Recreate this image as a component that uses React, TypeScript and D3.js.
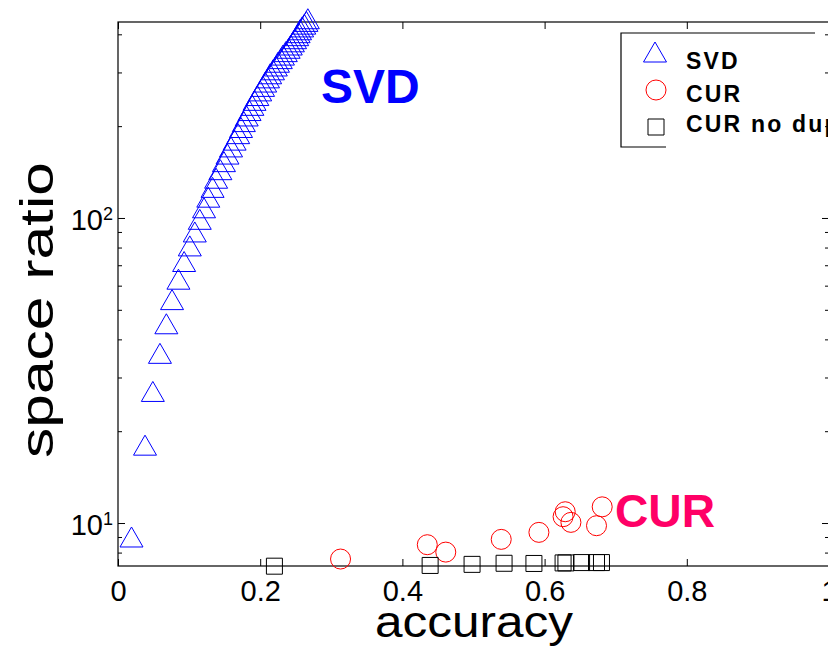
import { axisBottom, axisLeft, axisRight, axisTop, scaleLinear, scaleLog, select } from "d3";
import { useEffect, useRef } from "react";

// SVD: one point per rank, space ratio grows ~linearly
const svdAccuracy = [
    0.019, 0.038, 0.049, 0.059, 0.068, 0.076, 0.085, 0.093, 0.101, 0.108,
    0.115, 0.121, 0.127, 0.133, 0.138, 0.144, 0.149, 0.154, 0.159, 0.164,
    0.169, 0.173, 0.177, 0.181, 0.185, 0.189, 0.192, 0.196, 0.2, 0.204,
    0.207, 0.211, 0.214, 0.218, 0.222, 0.225, 0.229, 0.232, 0.236, 0.24,
    0.243, 0.246, 0.249, 0.252, 0.254, 0.256, 0.259, 0.262, 0.265, 0.267,
];
const svdSpaceRatio = [
    9, 18, 27, 36, 45, 54, 63, 72, 81, 90,
    99, 108, 117, 126, 135, 144, 153, 162, 171, 180,
    189, 198, 207, 216, 225, 234, 243, 252, 261, 270,
    279, 288, 297, 306, 315, 324, 333, 342, 351, 360,
    369, 378, 387, 396, 405, 414, 423, 432, 441, 450,
];

const curAccuracy = [0.313, 0.435, 0.461, 0.539, 0.592, 0.626, 0.629, 0.637, 0.673, 0.681];
const curSpaceRatio = [7.62, 8.49, 8.03, 8.84, 9.32, 10.49, 10.89, 10.05, 9.8, 11.3];

const curNoDupAccuracy = [0.22, 0.439, 0.498, 0.543, 0.585, 0.626, 0.63, 0.652, 0.673, 0.68];
const curNoDupSpaceRatio = [7.22, 7.26, 7.32, 7.38, 7.37, 7.4, 7.4, 7.42, 7.42, 7.42];

const xTicks = [0, 0.2, 0.4, 0.6, 0.8, 1];
const xTickLabels = ["0", "0.2", "0.4", "0.6", "0.8", "1"];
const yMajorTicks = [10, 100];
const yMajorLabels = ["1", "2"]; // exponents
const yMinorTicks = [8, 9, 20, 30, 40, 50, 60, 70, 80, 90, 200, 300, 400];
const legendLabels = ["SVD", "CUR", "CUR no dup"];

const FONT = "'Liberation Sans', Arial, Helvetica, sans-serif";
const BLUE = "#0000ff";
const RED = "#ff0000";
const PINK = "#ff0066";

const W = 828;
const H = 652;
const L = 118;
const R = 829;
const T = 22;
const B = 566;

// marker shapes
const triangle = "M0,-10L11.5,10L-11.5,10Z";
const square = "M-8,-8H8V8H-8Z";

function App() {
    const svgRef = useRef(null);

    useEffect(() => {
        const svg: any = select(svgRef.current);
        svg.selectAll("*").remove();

        const x = scaleLinear().domain([0, 1]).range([L, R]);
        const y = scaleLog().domain([7.23, 439]).range([B, T]);

        // box
        svg.append("rect")
            .attr("x", L)
            .attr("y", T)
            .attr("width", R - L)
            .attr("height", B - T)
            .attr("fill", "none")
            .attr("stroke", "#000")
            .attr("stroke-width", 1.2);

        const styleAxis = (g: any) => {
            g.select(".domain").remove();
            g.selectAll("line").attr("stroke", "#000").attr("stroke-width", 1);
        };

        // x axis (ticks inward) + labels
        svg.append("g")
            .attr("transform", `translate(0,${B})`)
            .call(
                axisBottom(x)
                    .tickValues(xTicks)
                    .tickSize(-7)
                    .tickPadding(14)
                    .tickFormat((d: any, i: number) => xTickLabels[i])
            )
            .call(styleAxis)
            .selectAll("text")
            .attr("font-family", FONT)
            .attr("font-size", 29)
            .attr("fill", "#000");

        svg.append("g")
            .attr("transform", `translate(0,${T})`)
            .call(axisTop(x).tickValues(xTicks).tickSize(-7).tickFormat(() => ""))
            .call(styleAxis);

        // y axes, major + minor ticks on both sides
        svg.append("g")
            .attr("transform", `translate(${L},0)`)
            .call(axisLeft(y).tickValues(yMajorTicks).tickSize(-7).tickFormat(() => ""))
            .call(styleAxis);
        svg.append("g")
            .attr("transform", `translate(${L},0)`)
            .call(axisLeft(y).tickValues(yMinorTicks).tickSize(-4).tickFormat(() => ""))
            .call(styleAxis);
        svg.append("g")
            .attr("transform", `translate(${R},0)`)
            .call(axisRight(y).tickValues(yMajorTicks).tickSize(-7).tickFormat(() => ""))
            .call(styleAxis);
        svg.append("g")
            .attr("transform", `translate(${R},0)`)
            .call(axisRight(y).tickValues(yMinorTicks).tickSize(-4).tickFormat(() => ""))
            .call(styleAxis);

        // 10^n labels
        yMajorTicks.forEach((v, i) => {
            const t = svg.append("text")
                .attr("x", L - 5)
                .attr("y", y(v) + 12)
                .attr("text-anchor", "end")
                .attr("font-family", FONT)
                .attr("font-size", 29)
                .text("10");
            t.append("tspan")
                .attr("dy", -10)
                .attr("font-size", 18)
                .text(yMajorLabels[i]);
        });

        // axis titles (the original glyphs are stretched a bit)
        svg.append("text")
            .attr("x", 375)
            .attr("y", 637)
            .attr("font-family", FONT)
            .attr("font-size", 45)
            .attr("textLength", 198)
            .attr("lengthAdjust", "spacingAndGlyphs")
            .text("accuracy");
        svg.append("text")
            .attr("transform", `translate(53,458) rotate(-90)`)
            .attr("font-family", FONT)
            .attr("font-size", 47)
            .attr("textLength", 296)
            .attr("lengthAdjust", "spacingAndGlyphs")
            .text("space ratio");

        // SVD triangles
        svg.append("g")
            .selectAll("path")
            .data(svdAccuracy)
            .enter()
            .append("path")
            .attr("d", triangle)
            .attr("transform", (d: number, i: number) => `translate(${x(d)},${y(svdSpaceRatio[i])})`)
            .attr("fill", "none")
            .attr("stroke", BLUE)
            .attr("stroke-width", 1);

        // CUR circles
        svg.append("g")
            .selectAll("circle")
            .data(curAccuracy)
            .enter()
            .append("circle")
            .attr("cx", (d: number) => x(d))
            .attr("cy", (d: number, i: number) => y(curSpaceRatio[i]))
            .attr("r", 10)
            .attr("fill", "none")
            .attr("stroke", RED)
            .attr("stroke-width", 1);

        // CUR no dup squares
        svg.append("g")
            .selectAll("path")
            .data(curNoDupAccuracy)
            .enter()
            .append("path")
            .attr("d", square)
            .attr("transform", (d: number, i: number) => `translate(${x(d)},${y(curNoDupSpaceRatio[i])})`)
            .attr("fill", "none")
            .attr("stroke", "#000")
            .attr("stroke-width", 1);

        // annotations
        svg.append("text")
            .attr("x", 321)
            .attr("y", 103)
            .attr("font-family", FONT)
            .attr("font-weight", "bold")
            .attr("font-size", 48)
            .attr("fill", BLUE)
            .text("SVD");
        svg.append("text")
            .attr("x", 615)
            .attr("y", 527)
            .attr("font-family", FONT)
            .attr("font-weight", "bold")
            .attr("font-size", 47)
            .attr("textLength", 100)
            .attr("lengthAdjust", "spacingAndGlyphs")
            .attr("fill", PINK)
            .text("CUR");

        // legend (box is cut off on the right like in the original)
        const lg = svg.append("g");
        lg.append("path")
            .attr("d", "M815,33H621V147H666")
            .attr("fill", "none")
            .attr("stroke", "#000")
            .attr("stroke-width", 1.2);
        const rows = [52, 90, 127];
        const baselines = [69, 102, 132];
        lg.append("path")
            .attr("d", triangle)
            .attr("transform", `translate(655,${rows[0]})`)
            .attr("fill", "none")
            .attr("stroke", BLUE);
        lg.append("circle")
            .attr("cx", 656)
            .attr("cy", rows[1])
            .attr("r", 10)
            .attr("fill", "none")
            .attr("stroke", RED);
        lg.append("path")
            .attr("d", square)
            .attr("transform", `translate(656,${rows[2]})`)
            .attr("fill", "none")
            .attr("stroke", "#000");
        legendLabels.forEach((s, i) => {
            lg.append("text")
                .attr("x", 686)
                .attr("y", baselines[i])
                .attr("font-family", FONT)
                .attr("font-weight", "bold")
                .attr("font-size", 23)
                .attr("letter-spacing", 2.2)
                .text(s);
        });
    }, []);

    return (
        <div style={{ position: "absolute", left: 0, top: 0 }}>
            <svg ref={svgRef} width={W} height={H} style={{ display: "block", background: "#fff" }} />
        </div>
    );
}

export default App;
